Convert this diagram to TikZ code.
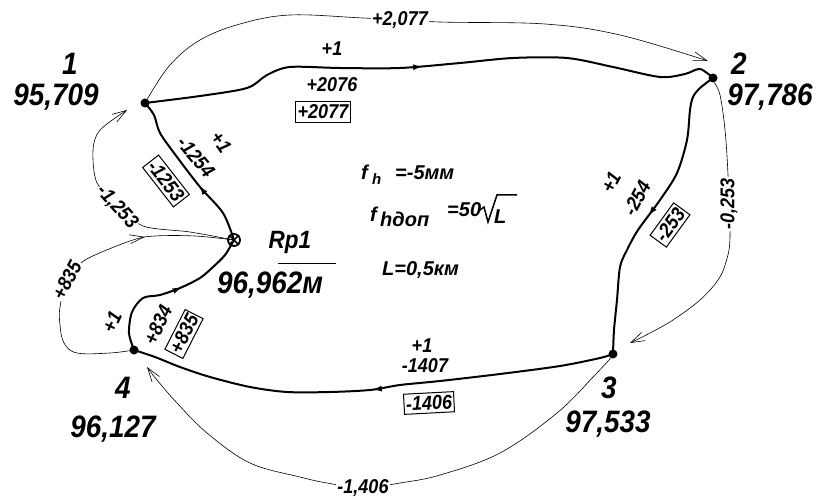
\documentclass[tikz,border=0pt]{standalone}
\usepackage{fontspec}
\setmainfont{Liberation Sans}[FakeStretch=0.9]
\newfontfamily\widefont{Liberation Sans}
\usetikzlibrary{arrows.meta,decorations.markings}
\begin{document}
\begin{tikzpicture}[x=1pt,y=-1pt,
  dot/.style={circle,fill,inner sep=0pt,minimum size=9pt},
  big/.style={font=\fontsize{31}{31}\selectfont\bfseries\itshape, inner sep=0pt},
  rlab/.style={font=\fontsize{25}{25}\selectfont\bfseries\itshape, inner sep=0pt},
  lab/.style={font=\fontsize{20}{20}\selectfont\bfseries\itshape, inner sep=0.5pt},
  boxlab/.style={lab, draw, line width=1pt, inner xsep=2pt, inner ysep=3pt},
  tlab/.style={font=\fontsize{20}{20}\selectfont\bfseries\itshape, fill=white, inner sep=1pt},
  mtext/.style={font=\widefont\fontsize{20}{20}\selectfont\bfseries\itshape, inner sep=0pt},
  msub/.style={font=\widefont\fontsize{15}{15}\selectfont\bfseries\itshape, inner sep=0pt},
  trav/.style={line width=2pt, line join=round, line cap=round},
  travarr/.style={trav, postaction={decorate}, decoration={markings, mark=at position #1 with {\arrow{Latex[length=10pt,width=6pt]}}}},
  thinl/.style={line width=0.6pt, line join=round},
  thinarr/.style={thinl, -{Straight Barb[length=14pt,width=9pt]}},
  thinmid/.style={thinl, postaction={decorate}, decoration={markings, mark=at position #1 with {\arrow{Straight Barb[length=14pt,width=9pt]}}}},
]
\useasboundingbox (0,0) rectangle (817,500);

% station nodes
\node[dot] (p1) at (145,103) {};
\node[dot] (p2) at (713,78) {};
\node[dot] (p3) at (613,354) {};
\node[dot] (p4) at (134,350) {};
\coordinate (rp) at (234,240);

% end points of thin arrows
\coordinate (e12) at (708,61);
\coordinate (e23) at (630,343);
\coordinate (e34) at (147,367);
\coordinate (eR1) at (127,110);

% thin arcs
\draw[thinarr] plot[smooth, tension=0.6] coordinates {(p1.60) (170,65) (200,40) (240,24) (290,15) (363,18) (440,22) (545,24) (620,35) (e12)};
\draw[thinarr] plot[smooth, tension=0.6] coordinates {(p2.-75) (720,95) (725,130) (728,175) (730,237) (726,262) (718,280) (700,300) (673,320) (650,333) (e23)};
\draw[thinarr] plot[smooth, tension=0.6] coordinates {(p3.-120) (595,375) (557,413) (500,453) (440,475) (400,483) (363,488) (327,483) (300,477) (250,463) (207,433) (177,403) (157,380) (e34)};
\draw[thinmid=0.72] plot[smooth, tension=0.6] coordinates {(p4.center) (110,353) (77,353) (64,343) (60,325) (60,307) (67,280) (80,264) (95,255) (133,240) (155,236) (195,236) (rp)};
\draw[thinarr] plot[smooth, tension=0.5] coordinates {(rp) (190,232) (143,226) (120,205) (97,183) (93,150) (100,130) (eR1)};

% traverse lines
\draw[travarr=0.49] plot[smooth, tension=0.5] coordinates {(p1.center) (200,96) (247,88) (267,75) (290,67) (340,68) (400,68) (460,63) (513,58) (567,58) (613,67) (660,77) (685,74) (700,69) (p2.center)};
\draw[travarr=0.52] plot[smooth, tension=0.5] coordinates {(p2.center) (700,88) (693,97) (690,110) (687,140) (677,173) (660,200) (638,230) (627,250) (620,267) (617,300) (614,330) (p3.center)};
\draw[travarr=0.5] plot[smooth, tension=0.5] coordinates {(p3.center) (600,358) (560,366) (500,374) (440,381) (400,385) (370,390) (330,392) (287,392) (250,387) (210,377) (180,367) (155,357) (p4.center)};
\draw[travarr=0.58] plot[smooth, tension=0.5] coordinates {(p4.center) (129,333) (132,312) (143,298) (160,295) (180,288) (200,278) (213,267) (225,255) (rp)};
\draw[travarr=0.4] plot[smooth, tension=0.5] coordinates {(rp) (223,213) (200,187) (177,157) (160,133) (154,115) (p1.center)};

% benchmark symbol
\node[circle, draw, line width=1.8pt, minimum size=12pt, inner sep=0pt] (rpm) at (rp) {};
\draw[line width=1.5pt] (rpm.45) -- (rpm.225) (rpm.135) -- (rpm.-45);

% thin-arc labels
\node[tlab] (t12) at (400,20) {+2,077};
\node[tlab, rotate=90] (t23) at (729,204) {-0,253};
\node[tlab] (t34) at (363,488) {-1,406};
\node[tlab, rotate=62] (t4R) at (67,280) {+835};
\node[tlab, rotate=-48] (tR1) at (117,207) {-1,253};

% leg labels
\node[lab] (a12) at (332,49) {+1};
\node[lab] (b12) at (332,85) {+2076};
\node[boxlab] (c12) at (323,112) {+2077};

\node[lab, rotate=-55] (aR1) at (221,142) {+1};
\node[lab, rotate=-50] (bR1) at (196,157) {-1254};
\node[boxlab, rotate=-52] (cR1) at (166,181) {-1253};

\node[lab, rotate=65] (a4R) at (112,322) {+1};
\node[lab, rotate=65] (b4R) at (158,325) {+834};
\node[boxlab, rotate=63] (c4R) at (184,334) {+835};

\node[lab, rotate=62] (a23) at (611,182) {+1};
\node[lab, rotate=62] (b23) at (637,198) {-254};
\node[boxlab, rotate=54] (c23) at (670,225) {-253};

\node[lab] (a34) at (422,346) {+1};
\node[lab] (b34) at (425,366) {-1407};
\node[boxlab, rotate=3] (c34) at (429,403) {-1406};

% station labels
\node[big] (n1) at (70,64) {1};
\node[big] (v1) at (56,97) {95,709};
\node[big] (n2) at (739,64) {2};
\node[big] (v2) at (770,97) {97,786};
\node[big] (n3) at (609,388) {3};
\node[big] (v3) at (608,424) {97,533};
\node[big] (n4) at (123,388) {4};
\node[big] (v4) at (113,429) {96,127};

\node[rlab] (rpn) at (290,242) {Rp1};
\draw[line width=1pt] (278,263) -- (336,263);
\node[big] (rpv) at (270,285) {96,962м};

% central text
\node[mtext, anchor=base west] (f1) at (361,180) {f};
\node[msub, anchor=base west] (h1) at (372,185) {h};
\node[mtext, anchor=base west] (e1) at (395,179) {=-5мм};

\node[mtext, anchor=base west] (f2) at (370,222) {f};
\node[mtext, anchor=base west] (h2) at (380,226) {hдоп};
\node[mtext, anchor=base west] (e2) at (447,216) {=50};
\draw[line width=1.5pt, line join=miter] (480,210) -- (484,207) -- (488,222) -- (497,195) -- (517,195);
\node[mtext, anchor=base west] (l2) at (494,223) {L};

\node[mtext, anchor=base west] (l3) at (382,275) {L=0,5км};
\end{tikzpicture}
\end{document}
